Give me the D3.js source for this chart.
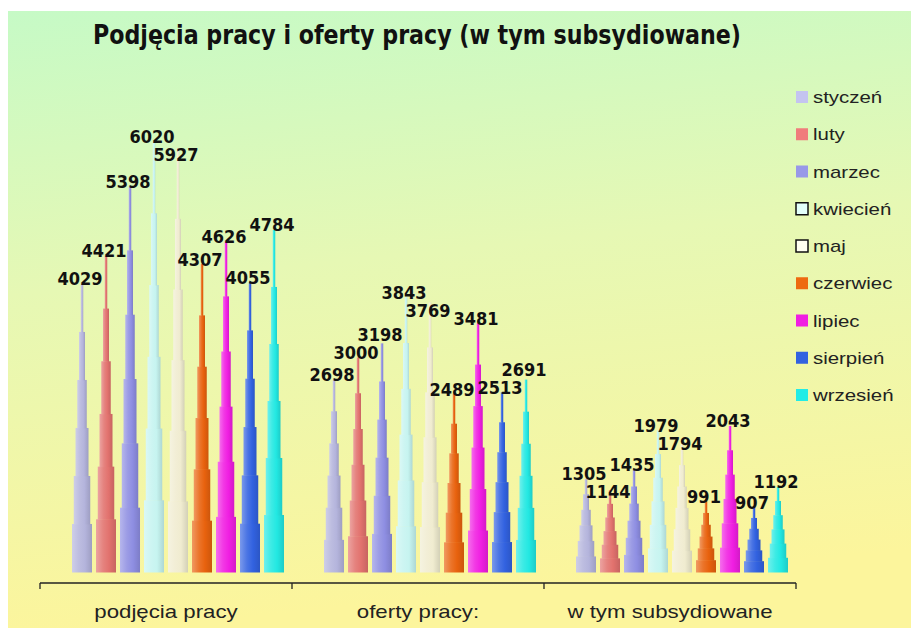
<!DOCTYPE html>
<html>
<head>
<meta charset="utf-8">
<script src="https://cdn.jsdelivr.net/npm/d3@7"></script>
<style>
  body { margin: 0; background: #fff; }
  svg { display: block; }
</style>
</head>
<body>
<div id="chart"></div>
<script>
// dane
const categories = ['podjęcia pracy', 'oferty pracy:', 'w tym subsydiowane'];
const months = ['styczeń', 'luty', 'marzec', 'kwiecień', 'maj', 'czerwiec', 'lipiec', 'sierpień', 'wrzesień'];
const podjecia = [4029, 4421, 5398, 6020, 5927, 4307, 4626, 4055, 4784];
const oferty = [2698, 3000, 3198, 3843, 3769, 2489, 3481, 2513, 2691];
const subsydiowane = [1305, 1144, 1435, 1979, 1794, 991, 2043, 907, 1192];
const title = 'Podjęcia pracy i oferty pracy (w tym subsydiowane)';

const barColors = ['#b4b4dc', '#e2726e', '#8e8ee2', '#c6f4f0', '#f0ecd0', '#e8620e', '#f01ee2', '#3262e0', '#22e8e2'];
const legendColors = ['#c4c4f0', '#f07c7c', '#9898e8', '#e2fffa', '#fffff0', '#ee6a10', '#f01ee2', '#3262e0', '#22ece6'];
const outlined = ['kwiecień', 'maj'];

const width = 911, height = 628;
const series = [podjecia, oferty, subsydiowane];

const svg = d3.select('#chart').append('svg')
    .attr('width', width)
    .attr('height', height);

const defs = svg.append('defs');
const bg = defs.append('linearGradient').attr('id', 'bg')
    .attr('x1', 0).attr('y1', 0).attr('x2', 0.15).attr('y2', 1);
bg.append('stop').attr('offset', '0%').attr('stop-color', '#c6fac6');
bg.append('stop').attr('offset', '45%').attr('stop-color', '#e6f8b4');
bg.append('stop').attr('offset', '100%').attr('stop-color', '#fcf59c');

svg.append('rect')
    .attr('x', 8).attr('y', 11)
    .attr('width', width - 8).attr('height', height - 11)
    .attr('fill', 'url(#bg)');

// cieniowanie stożków: jaśniej z lewej, ciemniej z prawej
months.forEach((m, i) => {
    const c = barColors[i];
    const g = defs.append('linearGradient').attr('id', 'cone' + i)
        .attr('x1', 0).attr('y1', 0).attr('x2', 1).attr('y2', 0);
    g.append('stop').attr('offset', '0%').attr('stop-color', d3.interpolateRgb(c, '#fff')(0.35));
    g.append('stop').attr('offset', '35%').attr('stop-color', d3.interpolateRgb(c, '#fff')(0.12));
    g.append('stop').attr('offset', '65%').attr('stop-color', c);
    g.append('stop').attr('offset', '100%').attr('stop-color', d3.interpolateRgb(c, '#000')(0.12));
});

const x0 = d3.scaleBand()
    .domain(categories)
    .range([40, 796]);

const x1 = d3.scaleBand()
    .domain(months)
    .range([30, 246]);

const y = d3.scaleLinear()
    .domain([0, 8000])
    .range([572, 0]);

// rozciągnięcie tekstu w poziomie jak na oryginale
function stretch(sel, k) {
    sel.each(function () {
        const len = this.getComputedTextLength();
        d3.select(this).attr('textLength', len * k).attr('lengthAdjust', 'spacingAndGlyphs');
    });
}

// tytuł
svg.append('text')
    .attr('x', 93)
    .attr('y', 44)
    .attr('font-family', '"DejaVu Sans Condensed", "DejaVu Sans", sans-serif')
    .attr('font-weight', 'bold')
    .attr('font-size', 26)
    .attr('fill', '#111')
    .attr('textLength', 648)
    .attr('lengthAdjust', 'spacingAndGlyphs')
    .text(title);

// dane dla słupków
const bars = [];
categories.forEach((cat, ci) => {
    months.forEach((m, mi) => {
        bars.push({cat: cat, month: m, mi: mi, value: series[ci][mi],
            cx: x0(cat) + x1(m) + x1.bandwidth() / 2});
    });
});

const base = y(0);
const steps = 6;
const baseWidth = 21;

const cones = svg.append('g').attr('class', 'cones');
bars.forEach(d => {
    const h = base - y(d.value);
    const segs = d3.range(steps).map(k => ({
        y0: base - k * h / steps,
        y1: base - (k + 1) * h / steps,
        w: Math.max(2.2, baseWidth * (steps - k) / steps - 1)
    }));
    cones.append('g').selectAll('rect').data(segs).enter()
        .append('rect')
        .attr('x', s => d.cx - s.w / 2)
        .attr('y', s => s.y1)
        .attr('width', s => s.w)
        .attr('height', s => s.y0 - s.y1 + 0.5)
        .attr('fill', 'url(#cone' + d.mi + ')');
});

// oś kategorii
const axisY = 583;
const axis = svg.append('g');
axis.append('line')
    .attr('x1', x0.range()[0]).attr('x2', x0.range()[1])
    .attr('y1', axisY).attr('y2', axisY)
    .attr('stroke', '#222').attr('stroke-width', 1.3);
const tickX = categories.map(c => x0(c)).concat([x0.range()[1]]);
axis.selectAll('.tick').data(tickX).enter()
    .append('line')
    .attr('x1', d => d).attr('x2', d => d)
    .attr('y1', axisY).attr('y2', axisY + 6)
    .attr('stroke', '#222').attr('stroke-width', 1.3);
axis.selectAll('.cat').data(categories).enter()
    .append('text')
    .attr('x', d => x0(d) + x0.bandwidth() / 2)
    .attr('y', 618)
    .attr('text-anchor', 'middle')
    .attr('font-family', '"Liberation Sans", Arial, sans-serif')
    .attr('font-size', 19)
    .attr('fill', '#222')
    .text(d => d)
    .call(stretch, 1.17);

// etykiety wartości, z prostym rozsuwaniem nachodzących na siebie
const labelG = svg.append('g');
const labelH = 15, labelShift = 18;
categories.forEach(cat => {
    const placed = [];
    bars.filter(d => d.cat === cat).forEach(d => {
        const t = labelG.append('text')
            .attr('text-anchor', 'middle')
            .attr('font-family', '"DejaVu Sans Condensed", "DejaVu Sans", sans-serif')
            .attr('font-weight', 'bold')
            .attr('font-size', 18)
            .attr('fill', '#111')
            .text(d.value);
        const w = t.node().getComputedTextLength();
        const lx = d.cx - 2;
        let cy = y(d.value) - 5.5;
        for (let iter = 0; iter < 5; iter++) {
            const hit = placed.find(p => Math.abs(p.x - lx) < (p.w + w) / 2 - 2 && Math.abs(p.cy - cy) < labelH);
            if (!hit) break;
            cy = d.value > hit.value ? hit.cy - labelShift : hit.cy + labelShift;
        }
        placed.push({x: lx, cy: cy, w: w, value: d.value});
        t.attr('x', lx).attr('y', cy + 7);
    });
});

// legenda
const legend = svg.append('g').attr('transform', 'translate(796, 97)');
const items = legend.selectAll('g').data(months).enter()
    .append('g')
    .attr('transform', (d, i) => `translate(0, ${i * 37.25})`);
items.append('rect')
    .attr('x', 0).attr('y', -6)
    .attr('width', 12).attr('height', 12)
    .attr('fill', (d, i) => legendColors[i])
    .attr('stroke', d => outlined.includes(d) ? '#111' : 'none')
    .attr('stroke-width', 1.5);
items.append('text')
    .attr('x', 17)
    .attr('y', 6)
    .attr('font-family', '"Liberation Sans", Arial, sans-serif')
    .attr('font-size', 17)
    .attr('fill', '#222')
    .text(d => d)
    .call(stretch, 1.2);
</script>
</body>
</html>
